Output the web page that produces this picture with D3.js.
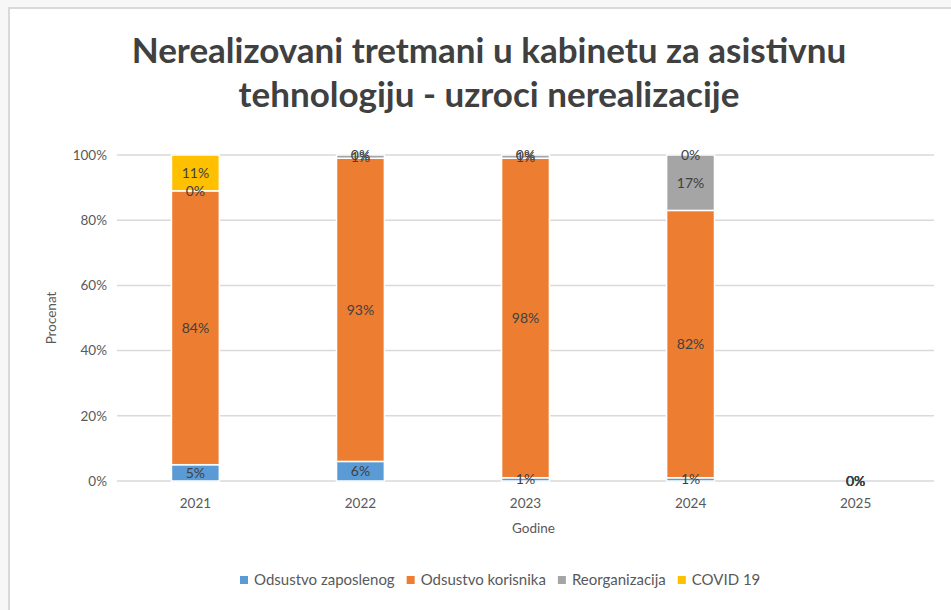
<!DOCTYPE html>
<html>
<head>
<meta charset="utf-8">
<script src="https://cdn.jsdelivr.net/npm/d3@7"></script>
<style>
  html, body { margin: 0; padding: 0; background: #f7f7f7; }
  svg { display: block; }
  text { font-family: Lato, "Open Sans", sans-serif; }
</style>
</head>
<body>
<div id="chart"></div>
<script>
// Data
const years = ["2021", "2022", "2023", "2024", "2025"];
const seriesNames = ["Odsustvo zaposlenog", "Odsustvo korisnika", "Reorganizacija", "COVID 19"];
const zaposlenog = [5, 6, 1, 1, 0];
const korisnika = [84, 93, 98, 82, 0];
const reorganizacija = [0, 1, 1, 17, 0];
const covid = [11, 0, 0, 0, 0];
const seriesColors = ["#5b9bd5", "#ed7d31", "#a5a5a5", "#ffc000"];
const yTicks = [0, 20, 40, 60, 80, 100];

// 1. variables
const width = 951;
const height = 610;
const margin = { top: 155, right: 17, bottom: 129, left: 117 };
const plotWidth = width - margin.left - margin.right;
const plotHeight = height - margin.top - margin.bottom;

const svg = d3.select("#chart")
  .append("svg")
  .attr("width", width)
  .attr("height", height);

// chart frame
svg.append("rect")
  .attr("x", 9).attr("y", 8)
  .attr("width", width).attr("height", height)
  .attr("fill", "#ffffff")
  .attr("stroke", "#d9d9d9")
  .attr("stroke-width", 2);

// title
const title = svg.append("text")
  .attr("text-anchor", "middle")
  .attr("fill", "#404040")
  .style("font-size", "35px")
  .style("font-weight", "bold");
title.append("tspan").attr("x", 489).attr("y", 63).text("Nerealizovani tretmani u kabinetu za asistivnu");
title.append("tspan").attr("x", 489).attr("y", 107).text("tehnologiju - uzroci nerealizacije");

const chart = svg.append("g")
  .attr("transform", `translate(${margin.left},${margin.top})`);

const x = d3.scaleBand().domain(years).range([0, plotWidth]).paddingInner(0.71).paddingOuter(0.33);
const y = d3.scaleLinear().domain([0, 100]).range([plotHeight, 0]);

// gridlines
chart.append("g")
  .selectAll("line")
  .data(yTicks)
  .enter()
  .append("line")
  .attr("x1", 0).attr("x2", plotWidth)
  .attr("y1", d => y(d)).attr("y2", d => y(d))
  .attr("stroke", "#d9d9d9")
  .attr("stroke-width", 1.5);

// y axis
const yAxis = chart.append("g")
  .call(d3.axisLeft(y).tickValues(yTicks).tickFormat(d => d + "%").tickSize(0).tickPadding(10));
yAxis.select(".domain").remove();
yAxis.selectAll("text").attr("fill", "#595959").style("font-size", "13.5px");

// x axis
const xAxis = chart.append("g")
  .attr("transform", `translate(0,${plotHeight})`)
  .call(d3.axisBottom(x).tickSize(0).tickPadding(17));
xAxis.select(".domain").remove();
xAxis.selectAll("text").attr("fill", "#595959").style("font-size", "13.5px");

// axis titles
chart.append("text")
  .attr("x", plotWidth / 2 + 8)
  .attr("y", plotHeight + 52)
  .attr("text-anchor", "middle")
  .attr("fill", "#595959")
  .style("font-size", "13.5px")
  .text("Godine");

chart.append("text")
  .attr("transform", "rotate(-90)")
  .attr("x", -plotHeight / 2)
  .attr("y", -61)
  .attr("text-anchor", "middle")
  .attr("fill", "#595959")
  .style("font-size", "13.5px")
  .text("Procenat");

// stacked data
const rows = years.map((yr, i) => ({
  year: yr,
  "Odsustvo zaposlenog": zaposlenog[i],
  "Odsustvo korisnika": korisnika[i],
  "Reorganizacija": reorganizacija[i],
  "COVID 19": covid[i]
}));
const stacked = d3.stack().keys(seriesNames)(rows);

const layers = chart.selectAll(".layer")
  .data(stacked)
  .enter()
  .append("g")
  .attr("class", "layer")
  .attr("fill", (d, i) => seriesColors[i]);

layers.selectAll("rect")
  .data(d => d)
  .enter()
  .append("rect")
  .attr("x", d => x(d.data.year))
  .attr("y", d => y(d[1]))
  .attr("width", x.bandwidth())
  .attr("height", d => y(d[0]) - y(d[1]))
  .attr("stroke", "#ffffff")
  .attr("stroke-width", 1.5);

// data labels, drawn on top of every bar
const labelData = [];
stacked.forEach(layer => layer.forEach(p => labelData.push({ p: p, key: layer.key })));
chart.append("g")
  .selectAll("text")
  .data(labelData)
  .enter()
  .append("text")
  .attr("x", d => x(d.p.data.year) + x.bandwidth() / 2)
  .attr("y", d => y((d.p[0] + d.p[1]) / 2) + 5)
  .attr("text-anchor", "middle")
  .attr("fill", "#404040")
  .style("font-size", "14px")
  .text(d => d.p.data[d.key] + "%");

// legend
const legend = svg.append("g").attr("transform", "translate(240,585)");
let lx = 0;
seriesNames.forEach((name, i) => {
  const item = legend.append("g").attr("transform", `translate(${lx},0)`);
  item.append("rect")
    .attr("x", 0).attr("y", -9)
    .attr("width", 8).attr("height", 8)
    .attr("fill", seriesColors[i]);
  const t = item.append("text")
    .attr("x", 14).attr("y", 0)
    .attr("fill", "#595959")
    .style("font-size", "15px")
    .text(name);
  lx += 14 + t.node().getComputedTextLength() + 12;
});
</script>
</body>
</html>
